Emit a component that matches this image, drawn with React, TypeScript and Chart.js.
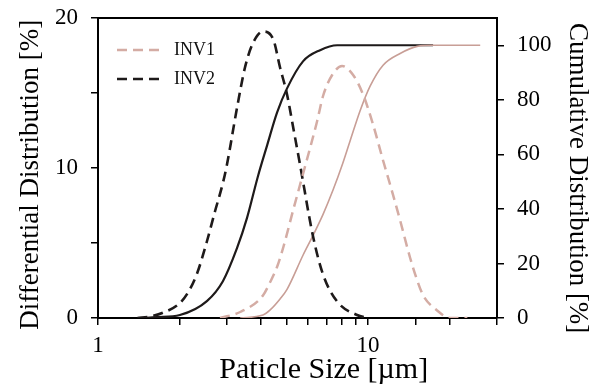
import React, { useEffect, useRef } from "react";
import { Chart, registerables } from "chart.js";

Chart.register(...registerables);

// INV2 differential distribution (left axis, %)
const inv2DiffX = [1.4, 1.56, 1.74, 2.01, 2.17, 2.33, 2.53, 2.71, 2.9, 3.0, 3.27, 3.5, 3.72, 4.08, 4.45, 4.72, 5.01, 5.28, 5.6, 6.26, 6.81, 7.68, 9.1, 10.0];
const inv2DiffY = [0, 0.1, 0.35, 1.0, 1.8, 3.0, 5.1, 7.1, 9.0, 10.2, 14.0, 16.7, 18.2, 19.1, 18.6, 16.7, 14.9, 12.7, 10.2, 5.4, 2.9, 1.1, 0.2, 0];

// INV1 differential distribution (left axis, %)
const inv1DiffX = [2.83, 3.36, 4.08, 4.34, 4.6, 4.85, 5.28, 5.74, 6.47, 6.81, 7.36, 8.01, 8.8, 9.58, 10.43, 11.36, 12.06, 13.14, 14.31, 15.2, 16.0, 18.0, 20.1, 23.3];
const inv1DiffY = [0, 0.4, 1.5, 2.4, 3.4, 4.7, 7.2, 9.6, 13.1, 14.8, 16.2, 16.8, 16.2, 14.9, 12.9, 10.5, 8.9, 6.5, 4.0, 2.5, 1.5, 0.5, 0, 0];

// INV2 cumulative distribution (right axis, %)
const inv2CumX = [1.45, 1.65, 2.01, 2.53, 2.9, 3.27, 3.56, 3.91, 4.23, 4.6, 5.01, 5.74, 6.64, 7.68, 17.4];
const inv2CumY = [0, 0.3, 1.1, 6.2, 13.5, 25.6, 36.6, 52, 63.4, 75.3, 84.2, 94.1, 98.2, 100, 100];

// INV1 cumulative distribution (right axis, %)
const inv1CumX = [3.36, 4.08, 4.34, 4.72, 5.01, 5.74, 6.26, 6.81, 7.42, 8.01, 8.58, 9.34, 10.17, 11.36, 13.14, 15.19, 17.41, 26.0];
const inv1CumY = [0, 1.1, 3.0, 7.0, 10.5, 23, 30.4, 38, 47, 56, 65, 76, 85, 92.7, 97, 99.6, 100, 100];

const xLabels = [1, 10];
const leftLabels = [0, 10, 20];
const rightLabels = [0, 20, 40, 60, 80, 100];

const BLACK = "#1e1a1a";
const PINK_DASH = "#d4aca4";
const PINK_SOLID = "#c89e96";
const SERIF = "'Liberation Serif', 'Times New Roman', serif";

const pts = (xs: number[], ys: number[]) => xs.map((x, i) => ({ x, y: ys[i] }));

export default function App() {
  const ref = useRef<HTMLCanvasElement | null>(null);

  useEffect(() => {
    if (!ref.current) return;
    const legendShift = {
      id: "legendShift",
      afterLayout(chart: any) {
        const lg = chart.legend;
        if (lg) {
          lg.left += 8;
          lg.right += 8;
          lg.top += 30;
          lg.bottom += 30;
        }
      },
    };
    const fixV = (w: number) => (s: any) => {
      s.width = w;
      s.paddingTop = 0;
      s.paddingBottom = 0;
    };
    const chart = new Chart(ref.current, {
      type: "line",
      data: {
        datasets: [
          {
            label: "INV1",
            data: pts(inv1DiffX, inv1DiffY),
            borderColor: PINK_DASH,
            backgroundColor: PINK_DASH,
            borderWidth: 2.5,
            borderDash: [10, 6],
            pointRadius: 0,
            cubicInterpolationMode: "monotone",
            yAxisID: "y",
          },
          {
            label: "INV2",
            data: pts(inv2DiffX, inv2DiffY),
            borderColor: BLACK,
            backgroundColor: BLACK,
            borderWidth: 2.6,
            borderDash: [10, 6],
            pointRadius: 0,
            cubicInterpolationMode: "monotone",
            yAxisID: "y",
          },
          {
            label: "INV1 cumulative",
            data: pts(inv1CumX, inv1CumY),
            borderColor: PINK_SOLID,
            backgroundColor: PINK_SOLID,
            borderWidth: 1.6,
            pointRadius: 0,
            cubicInterpolationMode: "monotone",
            yAxisID: "y2",
          },
          {
            label: "INV2 cumulative",
            data: pts(inv2CumX, inv2CumY),
            borderColor: BLACK,
            backgroundColor: BLACK,
            borderWidth: 2.2,
            pointRadius: 0,
            cubicInterpolationMode: "monotone",
            yAxisID: "y2",
          },
        ],
      },
      options: {
        animation: false,
        responsive: true,
        maintainAspectRatio: false,
        layout: { padding: { top: 18, left: 0, right: 0, bottom: 0 } },
        plugins: {
          tooltip: { enabled: false },
          legend: {
            position: "chartArea" as any,
            align: "start",
            labels: {
              usePointStyle: true,
              pointStyle: "line",
              pointStyleWidth: 48,
              padding: 11,
              color: "#111",
              font: { family: SERIF, size: 18 },
              generateLabels: (c: any) =>
                c.data.datasets
                  .map((ds: any, i: number) => ({
                    text: ds.label,
                    datasetIndex: i,
                    fillStyle: ds.borderColor,
                    strokeStyle: ds.borderColor,
                    lineWidth: ds.borderWidth,
                    lineDash: ds.borderDash || [],
                    pointStyle: "line",
                    hidden: false,
                    fontColor: "#111",
                  }))
                  .filter((it: any) => it.datasetIndex < 2),
            },
          },
        },
        scales: {
          x: {
            type: "logarithmic",
            position: "bottom",
            min: 1,
            max: 30,
            afterFit: (s: any) => {
              s.height = 71;
              s.paddingLeft = 0;
              s.paddingRight = 0;
            },
            border: { display: true, color: "#000", width: 2 },
            grid: { drawOnChartArea: false, drawTicks: true, tickLength: 7, color: "#000", lineWidth: 1.5 },
            ticks: {
              autoSkip: false,
              maxRotation: 0,
              padding: 7,
              color: "#000",
              font: { family: SERIF, size: 23 },
              callback: (v: any) => (xLabels.includes(Number(v)) ? String(v) : ""),
            },
            title: {
              display: true,
              text: "       Paticle Size [µm]",
              color: "#000",
              font: { family: SERIF, size: 30 },
              padding: { top: 0, bottom: 1 },
            },
          },
          xTop: {
            type: "linear",
            position: "top",
            min: 0,
            max: 1,
            afterFit: (s: any) => {
              s.height = 0;
              s.paddingLeft = 0;
              s.paddingRight = 0;
            },
            border: { display: true, color: "#000", width: 2 },
            grid: { display: false },
            ticks: { display: false },
          },
          y: {
            type: "linear",
            position: "left",
            min: 0,
            max: 20,
            afterFit: fixV(98),
            border: { display: true, color: "#000", width: 2 },
            grid: { drawOnChartArea: false, drawTicks: true, tickLength: 7, color: "#000", lineWidth: 1.5 },
            ticks: {
              stepSize: 5,
              padding: 13,
              color: "#000",
              font: { family: SERIF, size: 23 },
              callback: (v: any) => (leftLabels.includes(Number(v)) ? String(v) : ""),
            },
            title: {
              display: true,
              text: "Differential Distribution [%]  ",
              color: "#000",
              font: { family: SERIF, size: 27 },
              padding: { top: 15, bottom: 0 },
            },
          },
          y2: {
            type: "linear",
            position: "right",
            min: 0,
            max: 110,
            afterFit: fixV(94),
            border: { display: true, color: "#000", width: 2 },
            grid: { drawOnChartArea: false, drawTicks: true, tickLength: 7, color: "#000", lineWidth: 1.5 },
            ticks: {
              stepSize: 10,
              padding: 13,
              color: "#000",
              font: { family: SERIF, size: 23 },
              callback: (v: any) => (rightLabels.includes(Number(v)) ? String(v) : ""),
            },
            title: {
              display: true,
              text: "   Cumulative Distribution [%]",
              color: "#000",
              font: { family: SERIF, size: 27 },
              padding: { top: -2, bottom: 0 },
            },
          },
        },
      },
      plugins: [legendShift],
    });
    return () => chart.destroy();
  }, []);

  return (
    <div style={{ position: "absolute", left: 0, top: 0, width: 591, height: 389, background: "#fff" }}>
      <canvas ref={ref} />
    </div>
  );
}
